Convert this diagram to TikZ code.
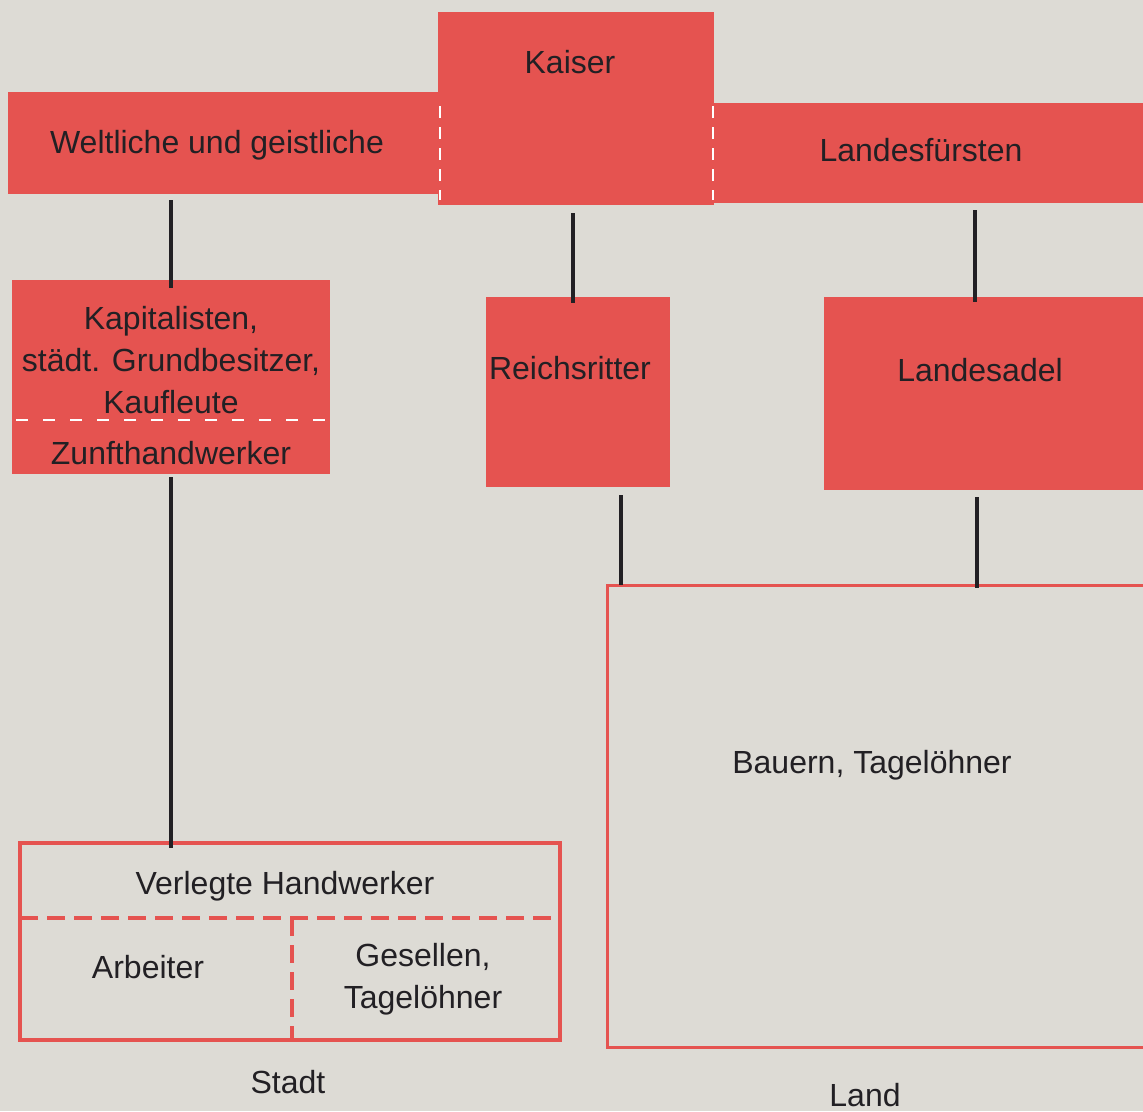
\documentclass[tikz,border=0pt]{standalone}
\usepackage{fontspec}
\setmainfont{Liberation Sans}
\definecolor{paper}{RGB}{221,219,213}
\definecolor{rot}{RGB}{229,83,80}
\definecolor{ink}{RGB}{34,32,36}
\begin{document}
\begin{tikzpicture}[x=1pt,y=-1pt,
  block/.style={fill=rot,draw=none,inner sep=0pt,outer sep=0pt},
  frame/.style={draw=rot,inner sep=0pt,outer sep=0pt,fill=none},
  txt/.style={text=ink,font=\fontsize{32}{42}\selectfont,inner sep=0pt,align=center},
  conn/.style={draw=ink,line width=3.3pt},
  wdash/.style={draw=white,line width=1.8pt,dash pattern=on 12pt off 9pt},
  rdash/.style={draw=rot,line width=3.5pt,dash pattern=on 18pt off 9pt}]
\fill[paper] (0,0) rectangle (1143,1111);
\useasboundingbox (0,0) rectangle (1143,1111);
\clip (0,0) rectangle (1143,1111);

% top band
\node[block,minimum width=432pt,minimum height=102pt] (welt) at (224,143) {};
\node[block,minimum width=276pt,minimum height=193pt] (kaiser) at (576,108.5) {};
\node[block,minimum width=440pt,minimum height=100pt] (fuersten) at (934,153) {};
\draw[wdash] ([xshift=2pt]kaiser.west |- 0,106) -- ([xshift=2pt]kaiser.west |- 0,200);
\draw[wdash] ([xshift=-1pt]kaiser.east |- 0,106) -- ([xshift=-1pt]kaiser.east |- 0,200);

% second row
\node[block,minimum width=318pt,minimum height=194pt] (kap) at (171,377) {};
\draw[draw=white,line width=1.5pt,dash pattern=on 12pt off 15pt] ([xshift=4pt]kap.west |- 0,420) -- ([xshift=-2pt]kap.east |- 0,420);
\node[block,minimum width=184pt,minimum height=190pt] (reich) at (578,392) {};
\node[block,minimum width=326pt,minimum height=193pt] (adel) at (987,393.5) {};

% bottom boxes
\node[frame,line width=3.8pt,minimum width=540pt,minimum height=197pt] (stadt) at (290,941.5) {};
\draw[rdash] (stadt.west |- 0,918) -- (stadt.east |- 0,918);
\draw[rdash] (292,918) -- (292,1040);
\node[frame,line width=3pt,minimum width=553pt,minimum height=462pt] (land) at (883.5,816) {};

% connectors
\draw[conn] ([yshift=-6pt]kap.north |- welt.south) -- ([yshift=-8pt]kap.north);
\draw[conn] ([xshift=-5pt,yshift=-8pt]reich.north |- kaiser.south) -- ([xshift=-5pt,yshift=-6pt]reich.north);
\draw[conn] ([xshift=-12pt,yshift=-7pt]adel.north |- fuersten.south) -- ([xshift=-12pt,yshift=-5pt]adel.north);
\draw[conn] ([yshift=-3pt]kap.south) -- ([yshift=-5pt]kap.south |- stadt.north);
\draw[conn] ([xshift=43pt,yshift=-8pt]reich.south) -- ([xshift=43pt]reich.south |- land.north);
\draw[conn] ([xshift=-10pt,yshift=-7pt]adel.south) -- ([xshift=-10pt,yshift=-3pt]adel.south |- land.north);

% texts
\node[txt] (tkaiser) at (570,62) {Kaiser};
\node[txt] (twelt) at (217,145) {Weltliche und geistliche};
\node[txt] (tfuersten) at (921,150) {Landesfürsten};
\node[txt,anchor=north] (tkap) at (171,306) {Kapitalisten,\\städt. Grundbesitzer,\\Kaufleute\\[9pt]Zunfthandwerker};
\node[txt] (treich) at (570,368) {Reichsritter};
\node[txt] (tadel) at (980,370) {Landesadel};
\node[txt] (tverl) at (285,886) {Verlegte Handwerker};
\node[txt] (tarb) at (148,967) {Arbeiter};
\node[txt] (tges) at (423,979) {Gesellen,\\Tagelöhner};
\node[txt] (tbauern) at (872,765) {Bauern, Tagelöhner};
\node[txt] (tstadt) at (288,1082) {Stadt};
\node[txt] (tland) at (865,1095) {Land};
\end{tikzpicture}
\end{document}
